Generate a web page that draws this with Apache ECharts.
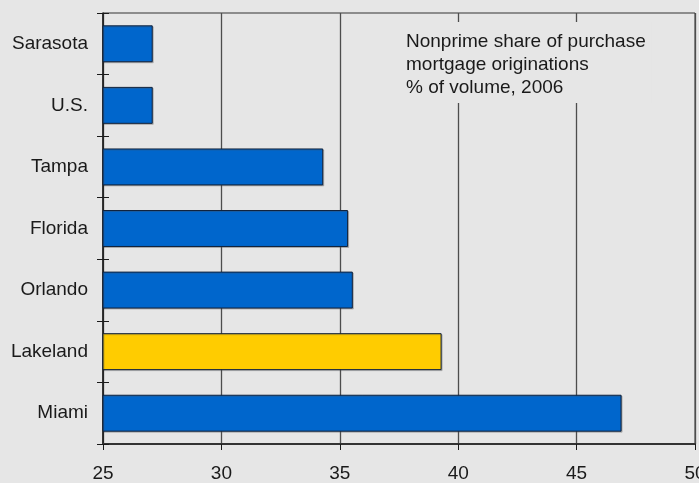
<!DOCTYPE html>
<html>
<head>
<meta charset="utf-8">
<style>
  html, body { margin: 0; padding: 0; background: #e6e6e6; }
  #chart { width: 699px; height: 483px; }
</style>
<script src="https://cdn.jsdelivr.net/npm/echarts@6/dist/echarts.min.js"></script>
</head>
<body>
<div id="chart"></div>
<script>
// Nonprime share of purchase mortgage originations, % of volume, 2006
const categories = ['Sarasota', 'U.S.', 'Tampa', 'Florida', 'Orlando', 'Lakeland', 'Miami'];
const shares = [27.1, 27.1, 34.3, 35.35, 35.55, 39.3, 46.9];
const highlighted = 'Lakeland';
const xTicks = { min: 25, max: 50, step: 5 };
const noteLines = ['Nonprime share of purchase', 'mortgage originations', '% of volume, 2006'];

const FONT = '"Liberation Sans", Arial, sans-serif';
const BLUE = '#0066cc';
const YELLOW = '#ffcc00';

const chart = echarts.init(document.getElementById('chart'), null, { renderer: 'canvas' });

const bandTicks = (length, inside) => ({
  show: true,
  alignWithLabel: false,
  inside: inside,
  length: length,
  lineStyle: { color: '#1a1a1a', width: 1 }
});

chart.setOption({
  backgroundColor: '#e6e6e6',
  animation: false,
  title: {
    text: noteLines.join('\n'),
    left: 400,
    top: 22,
    padding: [8, 6, 4, 6],
    backgroundColor: '#e6e6e6',
    textStyle: {
      fontFamily: FONT,
      fontSize: 19,
      fontWeight: 'normal',
      color: '#1a1a1a',
      lineHeight: 23
    }
  },
  grid: {
    left: 103,
    right: 4,
    top: 13,
    bottom: 39,
    show: true,
    borderColor: '#333333',
    borderWidth: 1,
    containLabel: false,
    outerBoundsMode: 'none'
  },
  xAxis: {
    type: 'value',
    min: xTicks.min,
    max: xTicks.max,
    interval: xTicks.step,
    axisLine: { show: true, onZero: false, lineStyle: { color: '#333333', width: 2 } },
    axisTick: { show: true, length: 6, lineStyle: { color: '#1a1a1a', width: 1 } },
    splitLine: { show: true, lineStyle: { color: '#4d4d4d', width: 1.3 } },
    axisLabel: {
      margin: 20,
      fontFamily: FONT,
      fontSize: 19,
      color: '#1a1a1a'
    }
  },
  yAxis: [
    {
      type: 'category',
      data: categories,
      inverse: true,
      axisLine: { show: true, lineStyle: { color: '#1a1a1a', width: 1.5 } },
      axisTick: bandTicks(6, false),
      splitLine: { show: false },
      axisLabel: {
        margin: 15,
        fontFamily: FONT,
        fontSize: 19,
        color: '#1a1a1a'
      }
    },
    {
      type: 'category',
      data: categories,
      inverse: true,
      position: 'left',
      offset: 0,
      axisLine: { show: false },
      axisTick: bandTicks(6, true),
      axisLabel: { show: false },
      splitLine: { show: false }
    }
  ],
  series: [
    {
      type: 'bar',
      yAxisIndex: 0,
      barWidth: '60%',
      data: categories.map((name, i) => ({
        value: shares[i],
        itemStyle: { color: name === highlighted ? YELLOW : BLUE }
      })),
      itemStyle: {
        borderColor: '#10213a',
        borderWidth: 1,
        shadowColor: 'rgba(80,80,80,0.3)',
        shadowOffsetX: 1,
        shadowOffsetY: 1,
        shadowBlur: 0
      }
    }
  ]
});
</script>
</body>
</html>
